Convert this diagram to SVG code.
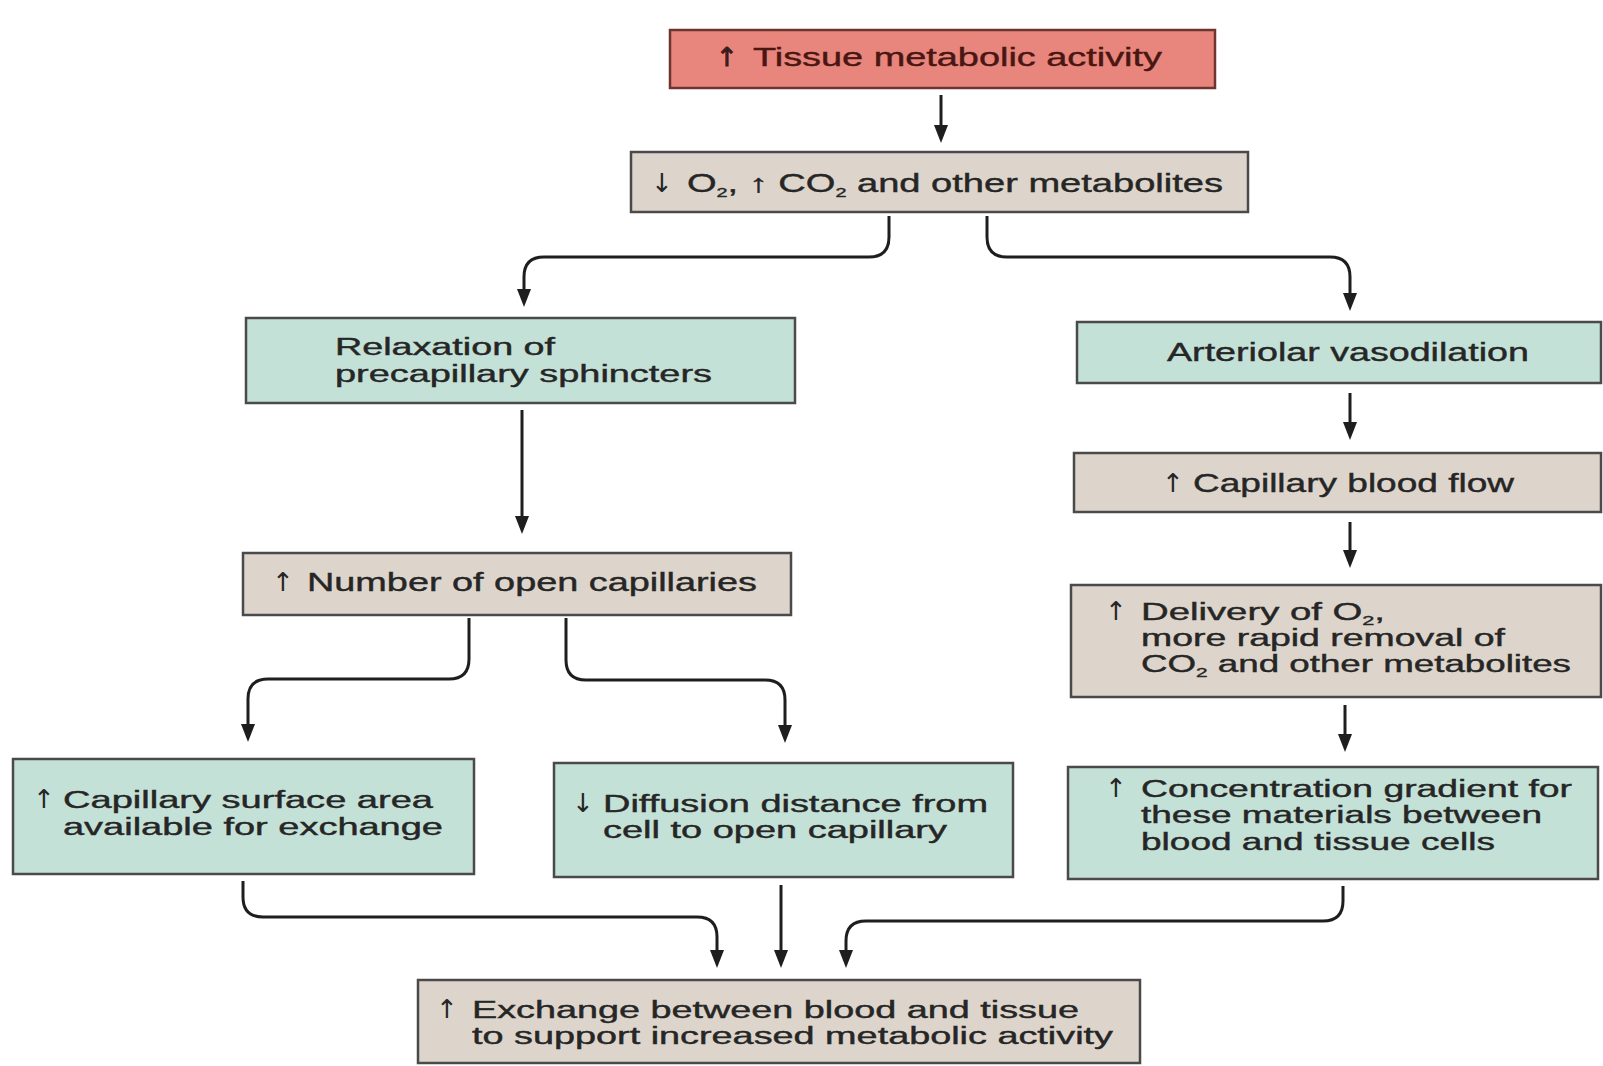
<svg xmlns="http://www.w3.org/2000/svg" width="1603" height="1066" viewBox="0 0 1603 1066">
<defs>
<style>
.bx{stroke:#4a4a4a;stroke-width:2.5}
.red{fill:#e8867d;stroke:#6e3430}
.beige{fill:#ddd5cb}
.teal{fill:#c4e1d7}
.t{font-family:"Liberation Sans","DejaVu Sans",Arial,sans-serif;font-size:25px;fill:#262626;stroke:#262626;stroke-width:0.4}
.m{font-size:23px}
.tr{fill:#4a1612;stroke:#4a1612}
.ar{font-family:"DejaVu Sans","Liberation Sans",sans-serif;font-size:26px;fill:#262626}
.sub{font-size:13px}
.c{fill:none;stroke:#1e1e1e;stroke-width:3;marker-end:url(#ah)}
</style>
<marker id="ah" viewBox="0 0 18 14" refX="4" refY="7" markerWidth="18" markerHeight="14" markerUnits="userSpaceOnUse" orient="auto">
<path d="M0,0 L18,7 L0,14 z" fill="#1e1e1e"/>
</marker>
</defs>
<rect width="1603" height="1066" fill="#ffffff"/>

<g id="n-tissue">
<rect class="bx red" x="670" y="30" width="545" height="58"/>
<text class="ar tr" x="716" y="66">↑</text>
<text class="t tr" x="753" y="66" textLength="409" lengthAdjust="spacingAndGlyphs">Tissue metabolic activity</text>
</g>

<g id="n-metabolites">
<rect class="bx beige" x="631" y="152" width="617" height="60"/>
<text class="ar" x="651" y="192">↓</text>
<text class="t" x="687" y="192" textLength="536" lengthAdjust="spacingAndGlyphs">O<tspan class="sub" dy="5">2</tspan><tspan dy="-5">, ↑ CO</tspan><tspan class="sub" dy="5">2</tspan><tspan dy="-5"> and other metabolites</tspan></text>
</g>

<g id="n-relaxation">
<rect class="bx teal" x="246" y="318" width="549" height="85"/>
<text class="t m" x="335" y="355" textLength="220" lengthAdjust="spacingAndGlyphs">Relaxation of</text>
<text class="t m" x="335" y="382" textLength="377" lengthAdjust="spacingAndGlyphs">precapillary sphincters</text>
</g>

<g id="n-number">
<rect class="bx beige" x="243" y="553" width="548" height="62"/>
<text class="ar" x="272" y="591">↑</text>
<text class="t" x="307" y="591" textLength="450" lengthAdjust="spacingAndGlyphs">Number of open capillaries</text>
</g>

<g id="n-arteriolar">
<rect class="bx teal" x="1077" y="322" width="524" height="61"/>
<text class="t" x="1167" y="361" textLength="362" lengthAdjust="spacingAndGlyphs">Arteriolar vasodilation</text>
</g>

<g id="n-flow">
<rect class="bx beige" x="1074" y="453" width="527" height="59"/>
<text class="ar" x="1162" y="492">↑</text>
<text class="t" x="1193" y="492" textLength="321" lengthAdjust="spacingAndGlyphs">Capillary blood flow</text>
</g>

<g id="n-delivery">
<rect class="bx beige" x="1071" y="585" width="530" height="112"/>
<text class="ar" x="1105" y="620">↑</text>
<text class="t m" x="1141" y="620" textLength="244" lengthAdjust="spacingAndGlyphs">Delivery of O<tspan class="sub" dy="5">2</tspan><tspan dy="-5">,</tspan></text>
<text class="t m" x="1141" y="646" textLength="364" lengthAdjust="spacingAndGlyphs">more rapid removal of</text>
<text class="t m" x="1141" y="672" textLength="430" lengthAdjust="spacingAndGlyphs">CO<tspan class="sub" dy="5">2</tspan><tspan dy="-5"> and other metabolites</tspan></text>
</g>

<g id="n-gradient">
<rect class="bx teal" x="1068" y="767" width="530" height="112"/>
<text class="ar" x="1105" y="797">↑</text>
<text class="t m" x="1141" y="797" textLength="431" lengthAdjust="spacingAndGlyphs">Concentration gradient for</text>
<text class="t m" x="1141" y="823" textLength="401" lengthAdjust="spacingAndGlyphs">these materials between</text>
<text class="t m" x="1141" y="850" textLength="354" lengthAdjust="spacingAndGlyphs">blood and tissue cells</text>
</g>

<g id="n-surface">
<rect class="bx teal" x="13" y="759" width="461" height="115"/>
<text class="ar" x="33" y="808">↑</text>
<text class="t m" x="63" y="808" textLength="370" lengthAdjust="spacingAndGlyphs">Capillary surface area</text>
<text class="t m" x="63" y="835" textLength="380" lengthAdjust="spacingAndGlyphs">available for exchange</text>
</g>

<g id="n-diffusion">
<rect class="bx teal" x="554" y="763" width="459" height="114"/>
<text class="ar" x="572" y="812">↓</text>
<text class="t m" x="603" y="812" textLength="385" lengthAdjust="spacingAndGlyphs">Diffusion distance from</text>
<text class="t m" x="603" y="838" textLength="344" lengthAdjust="spacingAndGlyphs">cell to open capillary</text>
</g>

<g id="n-exchange">
<rect class="bx beige" x="418" y="980" width="722" height="83"/>
<text class="ar" x="436" y="1018">↑</text>
<text class="t m" x="472" y="1018" textLength="607" lengthAdjust="spacingAndGlyphs">Exchange between blood and tissue</text>
<text class="t m" x="472" y="1044" textLength="641" lengthAdjust="spacingAndGlyphs">to support increased metabolic activity</text>
</g>

<g id="connectors">
<path class="c" d="M941 95 V129"/>
<path class="c" d="M889 216 V237 Q889 257 869 257 H544 Q524 257 524 277 V293"/>
<path class="c" d="M987 216 V237 Q987 257 1007 257 H1330 Q1350 257 1350 277 V297"/>
<path class="c" d="M522 410 V520"/>
<path class="c" d="M1350 393 V426"/>
<path class="c" d="M1350 522 V554"/>
<path class="c" d="M1345 705 V738"/>
<path class="c" d="M469 618 V659 Q469 679 449 679 H268 Q248 679 248 699 V728"/>
<path class="c" d="M566 618 V660 Q566 680 586 680 H765 Q785 680 785 700 V729"/>
<path class="c" d="M243 881 V897 Q243 917 263 917 H697 Q717 917 717 937 V954"/>
<path class="c" d="M781 885 V954"/>
<path class="c" d="M1343 886 V901 Q1343 921 1323 921 H866 Q846 921 846 941 V954"/>
</g>
</svg>
